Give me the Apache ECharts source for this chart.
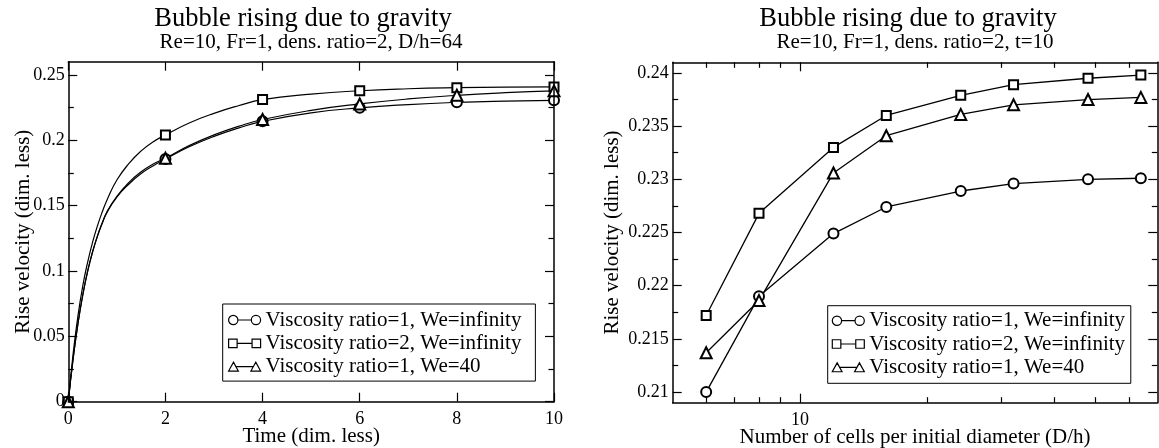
<!DOCTYPE html>
<html>
<head>
<meta charset="utf-8">
<script src="https://cdn.jsdelivr.net/npm/echarts@6/dist/echarts.min.js"></script>
<style>
  html, body { margin: 0; padding: 0; background: #fff; }
  #chart { width: 1159px; height: 448px; }
</style>
</head>
<body>
<div id="chart"></div>
<script>
// ---- Rise velocity vs time (D/h = 64) ----
const timeSteps = [0, 0.1, 0.2, 0.3, 0.4, 0.5, 0.6, 0.7, 0.8, 1.0, 1.25, 1.5, 1.75, 2, 2.5, 3, 3.5, 4, 5, 6, 7, 8, 9, 10];
const velVisc1Inf = [0, 0.033, 0.060, 0.082, 0.100, 0.1145, 0.1265, 0.1365, 0.1450, 0.1565, 0.1665, 0.1745, 0.1805, 0.1856, 0.1951, 0.2029, 0.2092, 0.2144, 0.2209, 0.2247, 0.2272, 0.2289, 0.2299, 0.2305];
const velVisc2Inf = [0, 0.037, 0.066, 0.089, 0.107, 0.122, 0.1345, 0.1452, 0.1545, 0.1695, 0.1822, 0.1918, 0.1988, 0.2040, 0.2133, 0.2205, 0.2263, 0.2310, 0.2352, 0.2378, 0.2393, 0.2401, 0.2405, 0.2407];
const velVisc1We40 = [0, 0.033, 0.060, 0.082, 0.100, 0.1147, 0.1268, 0.1369, 0.1455, 0.1570, 0.1677, 0.1758, 0.1818, 0.1862, 0.1960, 0.2040, 0.2105, 0.2158, 0.2228, 0.2277, 0.2315, 0.2343, 0.2363, 0.2377];
const markerTimes = [0, 2, 4, 6, 8, 10];

// ---- Rise velocity vs resolution (t = 10) ----
const cellsPerDiameter = [6, 8, 12, 16, 24, 32, 48, 64];
const resVisc1Inf = [0.2100, 0.2190, 0.2249, 0.2274, 0.2289, 0.2296, 0.2300, 0.2301];
const resVisc2Inf = [0.2172, 0.2268, 0.2330, 0.2360, 0.2379, 0.2389, 0.2395, 0.2398];
const resVisc1We40 = [0.2137, 0.2186, 0.2306, 0.2341, 0.2361, 0.2370, 0.2375, 0.2377];

// ---- Tick positions ----
const timeTicks = [0, 2, 4, 6, 8, 10];
const velTicks = [0, 0.05, 0.1, 0.15, 0.2, 0.25];
const velMinorTicks = [0.025, 0.075, 0.125, 0.175, 0.225];
const cellsTicks = [10];
const cellsMinorTicks = [6, 7, 8, 9, 20, 30, 40, 50, 60];
const resTicks = [0.21, 0.215, 0.22, 0.225, 0.23, 0.235, 0.24];
const resMinorTicks = [0.2125, 0.2175, 0.2225, 0.2275, 0.2325, 0.2375];

// ---- Text ----
const mainTitle = 'Bubble rising due to gravity';
const leftSubtitle = 'Re=10, Fr=1, dens. ratio=2, D/h=64';
const rightSubtitle = 'Re=10, Fr=1, dens. ratio=2, t=10';
const seriesNames = ['Viscosity ratio=1, We=infinity', 'Viscosity ratio=2, We=infinity', 'Viscosity ratio=1, We=40'];
const timeAxisName = 'Time (dim. less)';
const cellsAxisName = 'Number of cells per initial diameter (D/h)';
const velAxisName = 'Rise velocity (dim. less)';

const FONT = 'Liberation Serif';
const BLACK = '#000';
const symbols = ['emptyCircle', 'emptyRect', 'emptyTriangle'];
const symbolSizes = [10, 9, 11];
const legendIcons = [
  'path://M0.5,5A4.5,4.5 0 1 1 9.5,5A4.5,4.5 0 1 1 0.5,5Z M9.5,5L22.5,5 M22.5,5A4.5,4.5 0 1 1 31.5,5A4.5,4.5 0 1 1 22.5,5Z',
  'path://M1,1H9V9H1Z M9,5L23,5 M23,1H31V9H23Z',
  'path://M5,0.6L9.8,9.4H0.2Z M7.6,5L24.4,5 M27,0.6L31.8,9.4H22.2Z'
];

function textStyle(size) {
  return { fontFamily: FONT, fontSize: size, color: BLACK, fontWeight: 'normal' };
}

// One frame edge of a plot: axis line plus inward ticks (and labels if given)
function edgeAxis(gridIndex, position, scale, tickValues, tickLen, opts) {
  opts = opts || {};
  return Object.assign({
    gridIndex: gridIndex,
    position: position,
    axisLine: { show: opts.line !== false, onZero: false, lineStyle: { color: BLACK, width: 1.5 } },
    axisTick: { show: true, inside: true, length: tickLen, customValues: tickValues, lineStyle: { color: BLACK, width: 1.2 } },
    axisLabel: opts.labels
      ? Object.assign({ show: true, customValues: tickValues, margin: opts.margin }, textStyle(18))
      : { show: false },
    splitLine: { show: false },
    minorTick: { show: false },
    minorSplitLine: { show: false },
    axisPointer: { show: false },
    silent: true,
    z: 10
  }, scale, opts.name ? {
    name: opts.name,
    nameLocation: 'middle',
    nameGap: opts.nameGap,
    nameMoveOverlap: false,
    nameTextStyle: textStyle(21)
  } : {});
}

const timeScale = { type: 'value', min: 0, max: 10 };
const velScale = { type: 'value', min: 0, max: 0.26 };
const cellsScale = { type: 'log', logBase: 10, min: 5, max: 70 };
const resScale = { type: 'value', min: 0.209, max: 0.241 };

const xAxes = [
  edgeAxis(0, 'bottom', timeScale, timeTicks, 9, { labels: true, margin: 9, name: timeAxisName, nameGap: 24 }),
  edgeAxis(0, 'top', timeScale, timeTicks, 9),
  edgeAxis(1, 'bottom', cellsScale, cellsTicks, 9, { labels: true, margin: 9, name: cellsAxisName, nameGap: 24 }),
  edgeAxis(1, 'bottom', cellsScale, cellsMinorTicks, 5.5, { line: false }),
  edgeAxis(1, 'top', cellsScale, cellsTicks, 9),
  edgeAxis(1, 'top', cellsScale, cellsMinorTicks, 5.5, { line: false })
];
const yAxes = [
  edgeAxis(0, 'left', velScale, velTicks, 9, { labels: true, margin: 3.5, name: velAxisName, nameGap: 34 }),
  edgeAxis(0, 'left', velScale, velMinorTicks, 5.5, { line: false }),
  edgeAxis(0, 'right', velScale, velTicks, 9),
  edgeAxis(0, 'right', velScale, velMinorTicks, 5.5, { line: false }),
  edgeAxis(1, 'left', resScale, resTicks, 9, { labels: true, margin: 4, name: velAxisName, nameGap: 50 }),
  edgeAxis(1, 'left', resScale, resMinorTicks, 5.5, { line: false }),
  edgeAxis(1, 'right', resScale, resTicks, 9),
  edgeAxis(1, 'right', resScale, resMinorTicks, 5.5, { line: false })
];

function timeSeries(idx, values) {
  return {
    type: 'line',
    name: seriesNames[idx],
    xAxisIndex: 0,
    yAxisIndex: 0,
    data: timeSteps.map((t, i) => [t, values[i]]),
    smooth: 0.5,
    showSymbol: true,
    symbol: (val) => (markerTimes.indexOf(val[0]) >= 0 ? symbols[idx] : 'none'),
    symbolSize: symbolSizes[idx],
    lineStyle: { color: BLACK, width: 1.2 },
    itemStyle: { color: BLACK, borderColor: BLACK, borderWidth: 1.3 },
    emphasis: { disabled: true },
    silent: true,
    z: 3
  };
}

function resolutionSeries(idx, values) {
  return {
    type: 'line',
    name: seriesNames[idx],
    xAxisIndex: 2,
    yAxisIndex: 4,
    data: cellsPerDiameter.map((n, i) => [n, values[i]]),
    showSymbol: true,
    symbol: symbols[idx],
    symbolSize: symbolSizes[idx],
    lineStyle: { color: BLACK, width: 1.3 },
    itemStyle: { color: BLACK, borderColor: BLACK, borderWidth: 1.3 },
    emphasis: { disabled: true },
    silent: true,
    z: 3
  };
}

function legendBox(left, top, padding) {
  return {
    orient: 'vertical',
    left: left,
    top: top,
    padding: padding,
    itemWidth: 32,
    itemHeight: 10,
    itemGap: 2.3,
    backgroundColor: '#fff',
    borderColor: BLACK,
    borderWidth: 1,
    selectedMode: false,
    textStyle: textStyle(21),
    data: seriesNames.map((name, i) => ({
      name: name,
      icon: legendIcons[i],
      itemStyle: { color: '#fff', borderColor: BLACK, borderWidth: 1.2 }
    })),
    z: 20
  };
}

const chart = echarts.init(document.getElementById('chart'), null, { renderer: 'canvas' });
chart.setOption({
  backgroundColor: '#fff',
  animation: false,
  title: [
    { text: mainTitle, left: 303, top: 5.5, textAlign: 'center', padding: 0, textStyle: textStyle(26.5) },
    { text: leftSubtitle, left: 311, top: 31.5, textAlign: 'center', padding: 0, textStyle: textStyle(21) },
    { text: mainTitle, left: 908, top: 5.5, textAlign: 'center', padding: 0, textStyle: textStyle(26.5) },
    { text: rightSubtitle, left: 915, top: 31.5, textAlign: 'center', padding: 0, textStyle: textStyle(21) }
  ],
  grid: [
    { left: 68.3, top: 61.7, width: 485.7, height: 340, outerBoundsMode: 'none', containLabel: false },
    { left: 672.7, top: 62.3, width: 484.6, height: 340.4, outerBoundsMode: 'none', containLabel: false }
  ],
  legend: [
    legendBox(222.7, 304, [5.5, 14, 4, 5.3]),
    legendBox(827.7, 305.7, [4.5, 5.7, 5.5, 4])
  ],
  xAxis: xAxes,
  yAxis: yAxes,
  series: [
    timeSeries(0, velVisc1Inf),
    timeSeries(1, velVisc2Inf),
    timeSeries(2, velVisc1We40),
    resolutionSeries(0, resVisc1Inf),
    resolutionSeries(1, resVisc2Inf),
    resolutionSeries(2, resVisc1We40)
  ]
});
</script>
</body>
</html>
